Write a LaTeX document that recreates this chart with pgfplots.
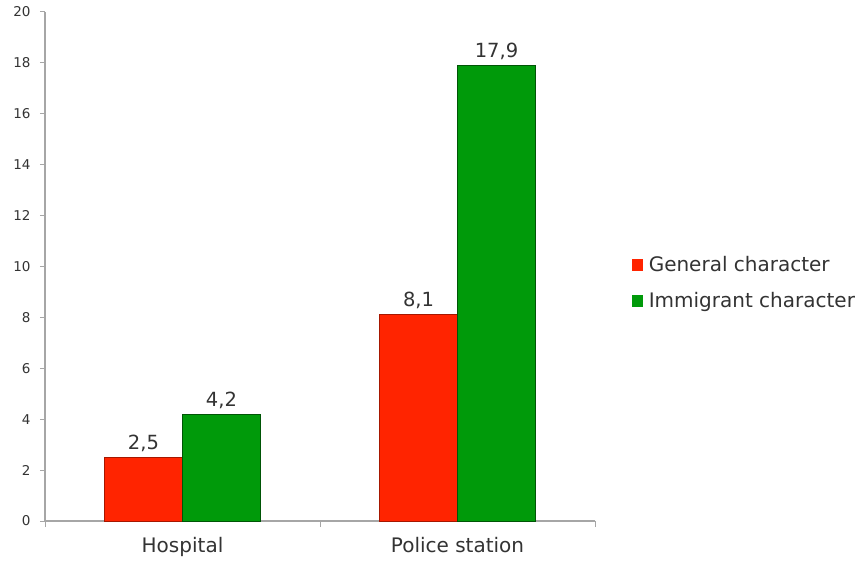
\documentclass[border=0pt]{standalone}
\usepackage{pgfplots}
\pgfplotsset{compat=1.18}
\usepackage{fontspec}
\setmainfont{DejaVu Sans}
\definecolor{barred}{HTML}{FF2400}
\definecolor{bargreen}{HTML}{009A0A}
\definecolor{axgray}{HTML}{A6A6A6}
\definecolor{txt}{HTML}{333333}
\begin{document}
\begin{tikzpicture}
\useasboundingbox (0pt,0pt) rectangle (858pt,562pt);
\begin{axis}[
  at={(45pt,41pt)}, anchor=south west,
  scale only axis, width=550pt, height=509pt,
  ymin=0, ymax=20, ytick={0,2,...,20},
  xmin=-0.5, xmax=1.5, xtick={0,1},
  xticklabels={Hospital, Police station},
  axis x line*=bottom, axis y line*=left,
  axis line style={draw=axgray, line width=1.2pt},
  tick align=outside,
  major tick length=5pt,
  minor tick length=6pt,
  tick style={draw=axgray, line width=1pt},
  major x tick style={draw=none},
  minor xtick={-0.5,0.5,1.5},
  /pgf/number format/assume math mode=true,
  yticklabel style={font=\fontsize{13.5}{15}\selectfont, text=txt, xshift=-6pt},
  xticklabel style={font=\fontsize{20}{23}\selectfont, text=txt, yshift=-8pt},
  ybar=0pt, bar width=78pt,
  nodes near coords={\pgfmathprintnumber[fixed,precision=1,fixed zerofill,use comma]{\pgfplotspointmeta}},
  every node near coord/.append style={font=\fontsize{19.5}{22}\selectfont, text=txt, yshift=2pt},
  legend style={at={(1.061,0.468)}, anchor=west, draw=none, fill=none,
    font=\fontsize{20}{23}\selectfont, text=txt, row sep=15pt},
  legend cell align=left,
  legend image code/.code={\fill[#1,draw=none] (0pt,-6pt) rectangle (11pt,6pt); \path[draw=none,fill=none] (11pt,0pt) -- (15pt,0pt);},
]
\addplot[fill=barred, draw=barred!65!black, line width=0.8pt] coordinates {(0,2.5) (1,8.1)};
\addplot[fill=bargreen, draw=bargreen!55!black, line width=0.8pt] coordinates {(0,4.2) (1,17.9)};
\legend{General character, Immigrant character}
\end{axis}
\end{tikzpicture}
\end{document}
